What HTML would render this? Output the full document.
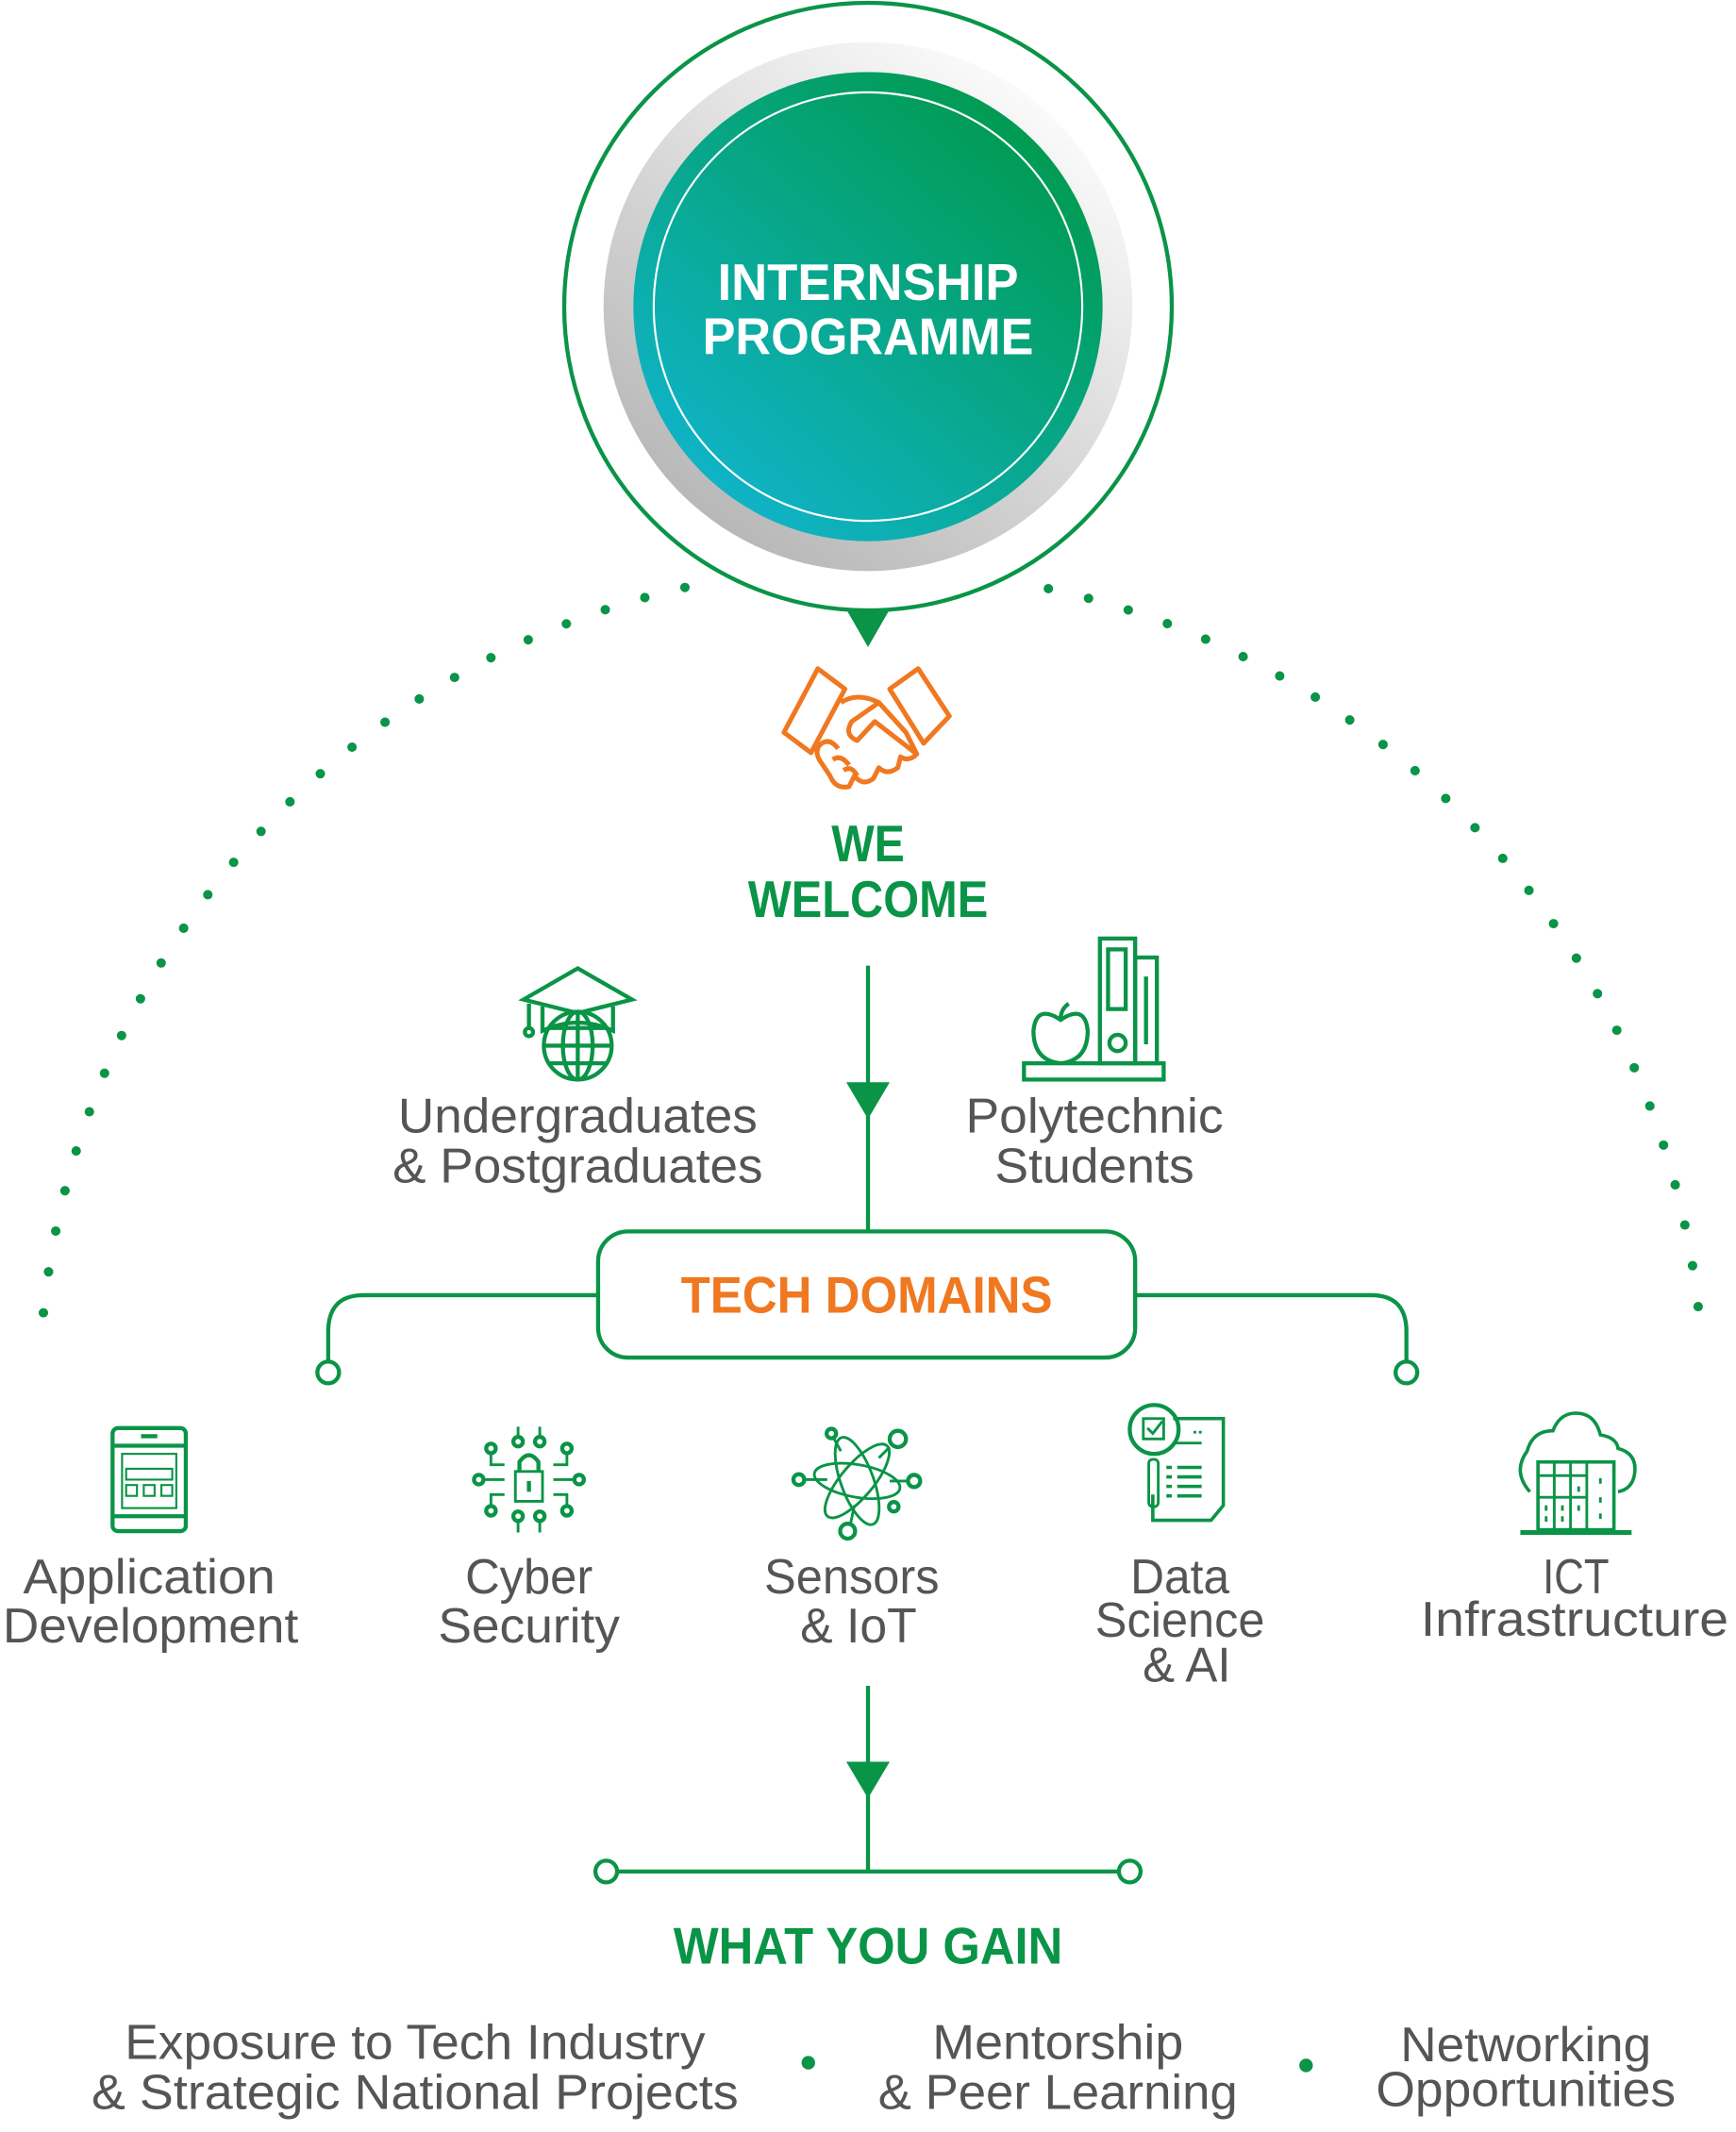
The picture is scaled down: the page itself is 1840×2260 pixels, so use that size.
<!DOCTYPE html>
<html><head><meta charset="utf-8"><style>
html,body{margin:0;padding:0;background:#fff;}
svg{display:block;}
.t{font-family:"Liberation Sans",sans-serif;fill:#555;font-size:36px;text-anchor:middle;}
.b{font-family:"Liberation Sans",sans-serif;font-weight:bold;text-anchor:middle;font-size:38px;}
.g{stroke:#0a9447;fill:none;stroke-width:3;}
.o{stroke:#f07820;fill:none;stroke-width:3.5;stroke-linejoin:round;}
</style></head><body>
<svg width="1840" height="2260" viewBox="0 0 1280 1572" xmlns="http://www.w3.org/2000/svg">
<defs>
<linearGradient id="gray" x1="0.8" y1="0.1" x2="0.2" y2="0.9"><stop offset="0" stop-color="#fafafa"/><stop offset="1" stop-color="#b8b8b8"/></linearGradient>
<linearGradient id="core" x1="0.85" y1="0.1" x2="0.15" y2="0.9"><stop offset="0" stop-color="#009a4e"/><stop offset="1" stop-color="#10b4c9"/></linearGradient>
</defs>
<path d="M32 968 A611 611 0 0 1 510 432" fill="none" stroke="#0a9447" stroke-width="7" stroke-linecap="round" stroke-dasharray="0 30.5"/>
<path d="M773 434 A611 611 0 0 1 1253 972" fill="none" stroke="#0a9447" stroke-width="7" stroke-linecap="round" stroke-dasharray="0 30.5"/>
<circle cx="640" cy="226" r="224" fill="#fff" stroke="#0a9447" stroke-width="3"/>
<polygon points="625,451 655,451 640,477" fill="#0a9447"/>
<circle cx="640" cy="226" r="195" fill="url(#gray)"/>
<circle cx="640" cy="226" r="173" fill="url(#core)"/>
<circle cx="640" cy="226" r="158" fill="none" stroke="#fff" stroke-width="1.5"/>
<text class="b" x="640" y="221" fill="#fff" textLength="222" lengthAdjust="spacingAndGlyphs">INTERNSHIP</text>
<text class="b" x="640" y="261" fill="#fff" textLength="244" lengthAdjust="spacingAndGlyphs">PROGRAMME</text>
<g class="o">
<polygon points="578,540 603,493 623,508 598,555"/>
<polygon points="700,528 677,493 656,508 681,548"/>
<path d="M620 518 Q632 510 648 518 L668 540 L676 556 Q670 562 664 558 L662 566 Q654 572 648 566 L644 574 Q636 580 630 572 L626 580 Q616 582 612 572 L604 560 Q600 552 606 548"/>
<path d="M648 518 L628 532 Q622 542 632 546 L645 532 L676 556"/>
<path d="M606 548 Q612 544 618 552 M614 560 Q620 556 626 564 M622 568 Q628 564 632 572"/>
</g>
<text class="b" x="640" y="635" fill="#0a9447" textLength="54" lengthAdjust="spacingAndGlyphs">WE</text>
<text class="b" x="640" y="676" fill="#0a9447" textLength="177" lengthAdjust="spacingAndGlyphs">WELCOME</text>
<line x1="640" y1="712" x2="640" y2="907" class="g" stroke-width="2.5"/>
<polygon points="624,798 656,798 640,825" fill="#0a9447"/>
<g class="g" stroke-width="2.5">
<polygon points="386,737 426,714 466,737 426,747"/>
<path d="M400 742 L400 760 Q426 748 452 760 L452 742"/>
<line x1="390" y1="740" x2="390" y2="758"/><circle cx="390" cy="761" r="3"/>
<circle cx="426" cy="771" r="25"/>
<ellipse cx="426" cy="771" rx="11" ry="25"/>
<line x1="426" y1="746" x2="426" y2="796"/>
<line x1="401" y1="771" x2="451" y2="771"/>
<path d="M405 758 H447 M405 784 H447"/>
</g>
<text class="t" x="426" y="835" textLength="265" lengthAdjust="spacingAndGlyphs">Undergraduates</text>
<text class="t" x="426" y="872" textLength="273" lengthAdjust="spacingAndGlyphs">&amp; Postgraduates</text>
<g class="g" stroke-width="2.5">
<rect x="755" y="784" width="103" height="12"/>
<rect x="811" y="692" width="26" height="92"/>
<rect x="837" y="706" width="16" height="78"/>
<rect x="817" y="700" width="13" height="44"/>
<circle cx="824" cy="769" r="6"/>
<line x1="845" y1="720" x2="845" y2="770"/>
<path d="M782 752 Q764 740 762 760 Q762 782 782 784 Q802 782 802 760 Q800 740 782 752 Z M782 752 Q782 744 788 740"/>
</g>
<text class="t" x="807" y="835" textLength="190" lengthAdjust="spacingAndGlyphs">Polytechnic</text>
<text class="t" x="807" y="872" textLength="147" lengthAdjust="spacingAndGlyphs">Students</text>
<rect x="441" y="908" width="396" height="93" rx="22" fill="#fff" class="g" stroke-width="2.5"/>
<text class="b" x="639" y="968" fill="#f07820" textLength="274" lengthAdjust="spacingAndGlyphs">TECH DOMAINS</text>
<path d="M441 955 H268 Q242 955 242 982 V1004" class="g" stroke-width="2.5"/>
<circle cx="242" cy="1012" r="8" fill="#fff" class="g" stroke-width="2"/>
<path d="M837 955 H1011 Q1037 955 1037 982 V1004" class="g" stroke-width="2.5"/>
<circle cx="1037" cy="1012" r="8" fill="#fff" class="g" stroke-width="2"/>
<g class="g" stroke-width="2.5">
<rect x="83" y="1053" width="54" height="76" rx="4"/>
<line x1="83" y1="1066" x2="137" y2="1066"/><line x1="83" y1="1118" x2="137" y2="1118"/>
<line x1="104" y1="1059" x2="116" y2="1059"/>
<rect x="90" y="1072" width="40" height="40" stroke-width="1.5"/>
<rect x="93" y="1083" width="34" height="8" stroke-width="1.5"/>
<path d="M93 1095 h8 v8 h-8z M106 1095 h8 v8 h-8z M119 1095 h8 v8 h-8z" stroke-width="1.5"/>
<rect x="380" y="1085" width="20" height="22" stroke-width="2"/>
<path d="M383 1085 V1078 Q390 1068 397 1078 V1085"/>
<line x1="390" y1="1092" x2="390" y2="1100"/>
<circle cx="362" cy="1068" r="3.5"/><circle cx="382" cy="1063" r="3.5"/><circle cx="398" cy="1063" r="3.5"/><circle cx="418" cy="1068" r="3.5"/>
<circle cx="362" cy="1114" r="3.5"/><circle cx="382" cy="1118" r="3.5"/><circle cx="398" cy="1118" r="3.5"/><circle cx="418" cy="1114" r="3.5"/>
<circle cx="353" cy="1091" r="3.5"/><circle cx="427" cy="1091" r="3.5"/>
<path d="M362 1072 V1080 H372 M418 1072 V1080 H408 M362 1110 V1102 H372 M418 1110 V1102 H408 M357 1091 H372 M408 1091 H423 M382 1052 V1059 M398 1052 V1059 M382 1122 V1130 M398 1122 V1130" stroke-width="2"/>
<ellipse cx="632" cy="1092" rx="12" ry="34" transform="rotate(-20 632 1092)" stroke-width="2"/>
<ellipse cx="632" cy="1092" rx="12" ry="34" transform="rotate(40 632 1092)" stroke-width="2"/>
<ellipse cx="632" cy="1092" rx="32" ry="12" transform="rotate(10 632 1092)" stroke-width="2"/>
<circle cx="613" cy="1057" r="3.5"/><circle cx="662" cy="1061" r="6"/><circle cx="589" cy="1091" r="4"/><circle cx="674" cy="1092" r="4.5"/><circle cx="659" cy="1111" r="3.5"/><circle cx="625" cy="1129" r="5.5"/>
<path d="M593 1091 H610 M670 1092 H656 M615 1061 L620 1070 M656 1067 L648 1075 M627 1124 L630 1110" stroke-width="2"/>
<path d="M865 1046 H902 V1110 L893 1121 H850 V1102" stroke-width="2.5"/>
<circle cx="851" cy="1054" r="18"/>
<rect x="843" y="1046" width="15" height="15" stroke-width="2"/>
<path d="M846 1053 l4 4 l7 -9" stroke-width="2"/>
<path d="M866 1064 H886 M880 1056 h2 M884 1056 h2" stroke-width="2"/>
<rect x="847" y="1076" width="7" height="35" rx="3" stroke-width="2"/>
<path d="M860 1082 h4 M868 1082 h18 M860 1089 h4 M868 1089 h18 M860 1096 h4 M868 1096 h18 M860 1103 h4 M868 1103 h18" stroke-width="2.5"/>
<path d="M1128 1100 Q1115 1085 1126 1070 Q1130 1055 1145 1055 Q1150 1042 1162 1042 Q1176 1042 1180 1058 Q1192 1060 1193 1068 Q1208 1072 1205 1088 Q1203 1098 1193 1100" stroke-width="2.5"/>
<rect x="1134" y="1078" width="56" height="50" stroke-width="2.5"/>
<path d="M1146 1078 V1128 M1158 1078 V1128 M1170 1078 V1128 M1134 1088 H1170 M1134 1104 H1170" stroke-width="2"/>
<path d="M1140 1110 v4 M1140 1118 v4 M1152 1110 v4 M1152 1118 v4 M1164 1096 v4 M1164 1110 v4 M1180 1090 v4 M1180 1104 v4 M1180 1116 v4" stroke-width="2"/>
<line x1="1121" y1="1130" x2="1203" y2="1130" stroke-width="3.5"/>
</g>
<text class="t" x="110" y="1175" textLength="186" lengthAdjust="spacingAndGlyphs">Application</text>
<text class="t" x="111" y="1211" textLength="218" lengthAdjust="spacingAndGlyphs">Development</text>
<text class="t" x="390" y="1175" textLength="94" lengthAdjust="spacingAndGlyphs">Cyber</text>
<text class="t" x="390" y="1211" textLength="134" lengthAdjust="spacingAndGlyphs">Security</text>
<text class="t" x="628" y="1175" textLength="129" lengthAdjust="spacingAndGlyphs">Sensors</text>
<text class="t" x="633" y="1211" textLength="86" lengthAdjust="spacingAndGlyphs">&amp; IoT</text>
<text class="t" x="870" y="1175" textLength="73" lengthAdjust="spacingAndGlyphs">Data</text>
<text class="t" x="870" y="1207" textLength="125" lengthAdjust="spacingAndGlyphs">Science</text>
<text class="t" x="875" y="1240" textLength="65" lengthAdjust="spacingAndGlyphs">&amp; AI</text>
<text class="t" x="1162" y="1175" textLength="49" lengthAdjust="spacingAndGlyphs">ICT</text>
<text class="t" x="1161" y="1206" textLength="227" lengthAdjust="spacingAndGlyphs">Infrastructure</text>
<line x1="640" y1="1243" x2="640" y2="1380" class="g" stroke-width="2.5"/>
<polygon points="624,1299 656,1299 640,1326" fill="#0a9447"/>
<line x1="455" y1="1380" x2="825" y2="1380" class="g" stroke-width="2.5"/>
<circle cx="447" cy="1380" r="8" fill="#fff" class="g" stroke-width="2"/>
<circle cx="833" cy="1380" r="8" fill="#fff" class="g" stroke-width="2"/>
<text class="b" x="640" y="1448" fill="#0a9447" textLength="287" lengthAdjust="spacingAndGlyphs">WHAT YOU GAIN</text>
<text class="t" x="306" y="1518" textLength="428" lengthAdjust="spacingAndGlyphs">Exposure to Tech Industry</text>
<text class="t" x="306" y="1555" textLength="477" lengthAdjust="spacingAndGlyphs">&amp; Strategic National Projects</text>
<circle cx="596" cy="1521" r="5" fill="#0a9447"/>
<text class="t" x="780" y="1518" textLength="185" lengthAdjust="spacingAndGlyphs">Mentorship</text>
<text class="t" x="780" y="1555" textLength="265" lengthAdjust="spacingAndGlyphs">&amp; Peer Learning</text>
<circle cx="963" cy="1523" r="5" fill="#0a9447"/>
<text class="t" x="1125" y="1520" textLength="185" lengthAdjust="spacingAndGlyphs">Networking</text>
<text class="t" x="1125" y="1553" textLength="221" lengthAdjust="spacingAndGlyphs">Opportunities</text>
</svg>
</body></html>
